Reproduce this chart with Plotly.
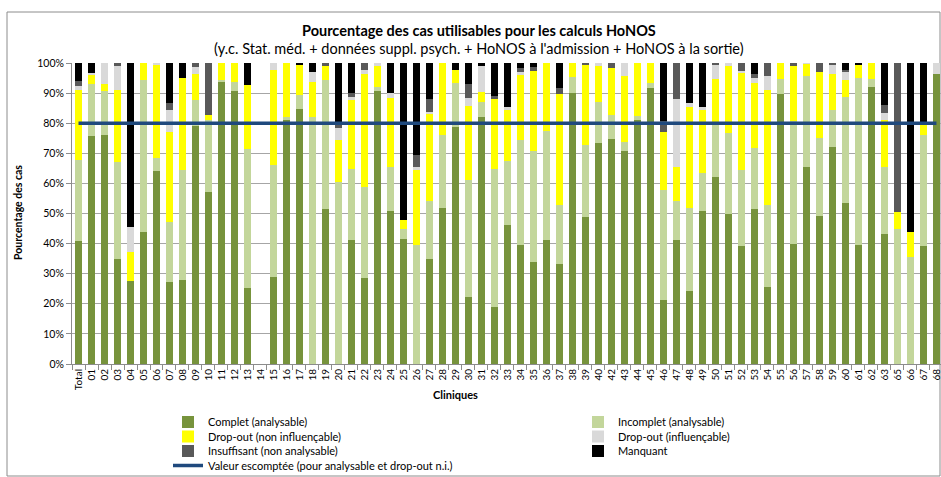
import plotly.graph_objects as go

categories = ["Total", "01", "02", "03", "04", "05", "06", "07", "08", "09", "10",
              "11", "12", "13", "14", "15", "16", "17", "18", "19", "20",
              "21", "22", "23", "24", "25", "26", "27", "28", "29", "30",
              "31", "32", "33", "34", "35", "36", "37", "38", "39", "40",
              "42", "43", "44", "45", "46", "47", "48", "49", "50",
              "51", "52", "53", "54", "55", "56", "57", "58", "59", "60",
              "61", "62", "63", "65", "66", "67", "68"]

complet = [41.0, 75.6, 76.2, 34.9, 27.6, 44.0, 64.0, 27.1, 27.8, 79.0, 57.0,
           93.7, 90.8, 25.3, None, 29.0, 81.2, 84.8, 0, 51.4, 0,
           41.2, 28.7, 90.6, 50.7, 41.5, 0, 34.9, 51.8, 78.9, 22.4,
           82.0, 19.1, 46.2, 39.6, 33.8, 41.2, 33.3, 90.0, 49.0, 73.4,
           74.9, 70.8, 81.2, 91.7, 21.2, 41.2, 24.1, 50.9, 62.0,
           49.9, 39.2, 51.4, 25.5, 89.8, 39.8, 65.6, 49.2, 72.0, 53.4,
           39.6, 92.0, 43.2, 0, 0, 39.2, 96.5]

incomplet = [26.7, 17.5, 14.6, 32.2, 0, 50.2, 4.3, 20.2, 36.5, 8.7, 24.0,
             0.8, 2.9, 46.2, None, 37.0, 1.0, 4.7, 82.2, 42.8, 60.5,
             23.7, 30.2, 1.5, 14.9, 3.3, 39.7, 19.4, 24.4, 14.4, 38.6,
             4.9, 45.8, 21.4, 34.7, 37.0, 36.3, 19.4, 5.3, 23.6, 13.5,
             7.9, 3.1, 1.1, 1.6, 36.7, 12.8, 27.7, 12.7, 17.5,
             27.0, 25.3, 20.3, 27.3, 5.0, 41.0, 30.2, 25.9, 12.5, 35.3,
             55.4, 2.7, 22.1, 44.8, 35.4, 37.0, 0]

dropout_ni = [23.2, 3.0, 2.2, 24.0, 9.5, 5.8, 31.1, 29.9, 30.7, 8.6, 1.8,
              5.5, 6.3, 21.1, None, 31.8, 17.8, 9.9, 11.4, 4.9, 13.8,
              22.9, 37.6, 6.8, 22.8, 3.1, 24.8, 28.7, 23.8, 4.3, 24.6,
              3.5, 23.1, 16.7, 21.6, 26.4, 22.5, 37.1, 4.7, 26.8, 12.0,
              15.5, 21.7, 17.7, 6.7, 19.2, 11.3, 33.6, 20.9, 15.3,
              22.0, 32.2, 21.6, 38.3, 5.2, 18.3, 3.9, 21.9, 11.8, 5.8,
              4.4, 5.3, 15.9, 5.6, 8.3, 3.3, 0]

dropout_i = [1.6, 0.6, 7.0, 7.8, 8.4, 0, 0.6, 7.2, 0, 2.5, 0,
             0, 0, 0, None, 2.2, 0, 0, 3.4, 0, 4.1,
             0.8, 1.1, 1.1, 1.6, 0, 0.8, 0.7, 0, 0, 2.8,
             8.5, 0, 1.1, 1.0, 0, 0, 0, 0, 0, 1.1,
             0, 4.4, 0, 0, 0, 22.7, 1.3, 0.9, 4.6,
             1.1, 0.5, 1.7, 4.7, 0, 0, 0.3, 0, 3.1, 2.7,
             0, 0, 2.2, 0, 0, 0, 3.5]

insuffisant = [1.6, 0, 0, 1.1, 0, 0, 0, 2.3, 0, 1.2, 17.2,
               0, 0, 0, None, 0, 0, 0, 0, 0.9, 1.6,
               1.4, 2.4, 0, 0, 0, 4.0, 4.3, 0, 0, 4.6,
               0, 1.2, 0, 1.4, 1.4, 0, 1.9, 0, 0.6, 0,
               1.7, 0, 0, 0, 3.5, 12.0, 0, 0, 0.6,
               0, 2.8, 1.5, 4.2, 0, 0.9, 0, 3.0, 0.6, 0.6,
               0, 0, 2.5, 49.6, 0, 0, 0]

manquant = [5.9, 3.3, 0, 0, 54.5, 0, 0, 13.3, 5.0, 0, 0,
            0, 0, 7.4, None, 0, 0, 0.6, 3.0, 0, 20.0,
            10.0, 0, 0, 10.0, 52.1, 30.7, 12.0, 0, 2.4, 7.0,
            1.1, 10.8, 14.6, 1.7, 1.4, 0, 8.3, 0, 0, 0,
            0, 0, 0, 0, 19.4, 0, 13.3, 14.6, 0,
            0, 0, 3.5, 0, 0, 0, 0, 0, 0, 2.2,
            0.6, 0, 14.1, 0, 56.3, 20.5, 0]

target_value = 80
y_ticks = [0, 10, 20, 30, 40, 50, 60, 70, 80, 90, 100]
y_tick_labels = ["0%", "10%", "20%", "30%", "40%", "50%", "60%", "70%", "80%", "90%", "100%"]

# (name, values, colour, legend row)
series = [
    ("Complet (analysable)", complet, "#77933C", "legend"),
    ("Incomplet (analysable)", incomplet, "#C3D69B", "legend"),
    ("Drop-out (non influençable)", dropout_ni, "#FFFF00", "legend2"),
    ("Drop-out (influençable)", dropout_i, "#D9D9D9", "legend2"),
    ("Insuffisant (non analysable)", insuffisant, "#595959", "legend3"),
    ("Manquant", manquant, "#000000", "legend3"),
]

FONT = "Lato, 'Liberation Sans', sans-serif"

fig = go.Figure()
for name, vals, col, lg in series:
    fig.add_trace(go.Bar(x=categories, y=vals, name=name, legend=lg,
                         marker=dict(color=col, line=dict(width=0))))

fig.add_trace(go.Scatter(x=categories, y=[target_value] * len(categories),
                         mode="lines", legend="legend4",
                         name="Valeur escomptée (pour analysable et drop-out n.i.)",
                         line=dict(color="#1F497D", width=3.5)))

W, H = 941, 477
L, R, T, B = 72, 0, 63, 113
pw, ph = W - L - R, H - T - B

def px_x(px):
    return (px - L) / pw

def px_y(py):
    return (H - B - py) / ph

def legend_row(row_y):
    return dict(
        orientation="h",
        traceorder="normal",
        xref="container", yref="container",
        x=168 / W, y=1 - row_y / H,
        xanchor="left", yanchor="middle",
        entrywidth=365,
        font=dict(family=FONT, size=11),
        bgcolor="rgba(0,0,0,0)",
    )

fig.update_layout(
    width=W, height=H,
    margin=dict(l=L, r=R, t=T, b=B),
    barmode="stack",
    bargap=0.45,
    paper_bgcolor="white",
    plot_bgcolor="white",
    font=dict(family=FONT, size=11, color="#000000"),
    showlegend=True,
    legend=legend_row(422),
    legend2=legend_row(436.5),
    legend3=legend_row(451),
    legend4=legend_row(465.5),
    xaxis=dict(
        type="category",
        range=[-0.5, len(categories) - 0.5 - 0.15],
        tickangle=-90,
        tickfont=dict(family=FONT, size=10),
        ticks="outside", ticklen=5, tickcolor="#8C8C8C",
        tickson="boundaries",
        showline=True, linecolor="#8C8C8C", linewidth=1,
        showgrid=False,
        zeroline=False,
    ),
    yaxis=dict(
        range=[0, 100],
        tickvals=y_ticks, ticktext=y_tick_labels,
        tickfont=dict(family=FONT, size=10.5),
        ticks="outside", ticklen=5, tickcolor="#8C8C8C",
        showline=True, linecolor="#8C8C8C", linewidth=1,
        showgrid=True, gridcolor="#A6A6A6", gridwidth=1,
        zeroline=False,
    ),
)

fig.add_annotation(text="<b>Pourcentage des cas utilisables pour les calculs HoNOS</b>",
                   xref="paper", yref="paper", x=px_x(479), y=px_y(30),
                   xanchor="center", yanchor="middle", showarrow=False,
                   font=dict(family=FONT, size=14.5))
fig.add_annotation(text="(y.c. Stat. méd. + données suppl. psych. + HoNOS à l'admission + HoNOS à la sortie)",
                   xref="paper", yref="paper", x=px_x(479), y=px_y(48),
                   xanchor="center", yanchor="middle", showarrow=False,
                   font=dict(family=FONT, size=14.5))
fig.add_annotation(text="<b>Cliniques</b>",
                   xref="paper", yref="paper", x=px_x(455), y=px_y(394),
                   xanchor="center", yanchor="middle", showarrow=False,
                   font=dict(family=FONT, size=11))
fig.add_annotation(text="<b>Pourcentage des cas</b>",
                   xref="paper", yref="paper", x=px_x(18), y=px_y(213),
                   xanchor="center", yanchor="middle", showarrow=False, textangle=-90,
                   font=dict(family=FONT, size=10.5))

fig.add_shape(type="rect", xref="paper", yref="paper",
              x0=px_x(7), x1=px_x(940), y0=px_y(476), y1=px_y(12),
              line=dict(color="#8C8C8C", width=1), fillcolor="rgba(0,0,0,0)", layer="below")

fig.write_html("out.html", config={"displayModeBar": False},
               post_script="document.body.style.margin='0px';")
